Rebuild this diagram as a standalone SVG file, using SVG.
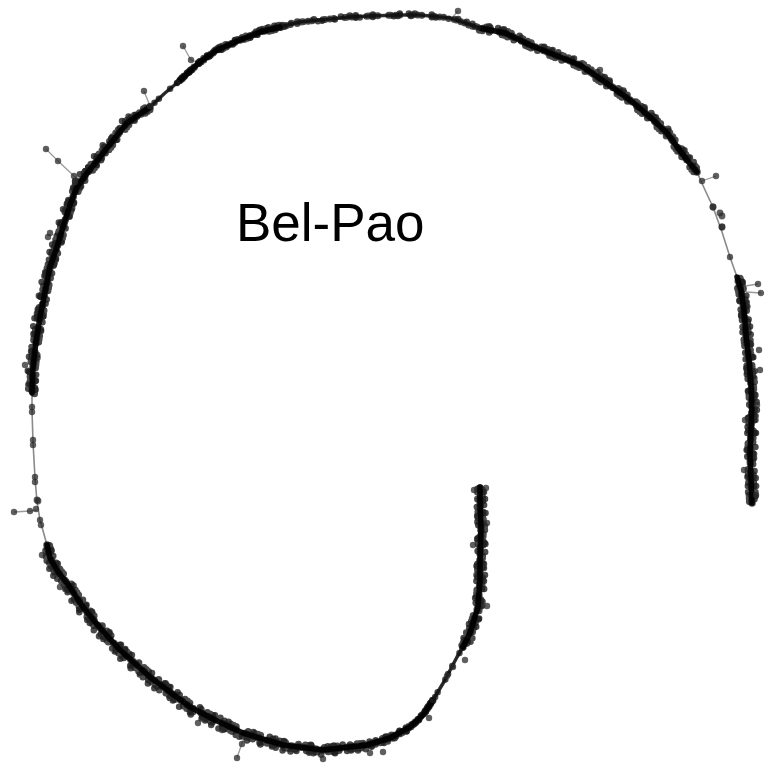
<svg xmlns="http://www.w3.org/2000/svg" xmlns:xlink="http://www.w3.org/1999/xlink" width="769" height="768" viewBox="0 0 769 768">
<style>
.base{fill:none;stroke:#8a8a8a;stroke-width:1.6;stroke-linejoin:round}
.spur{fill:none;stroke:#9a9a9a;stroke-width:1.3}
.L{fill:none;stroke:#1e1e1e;stroke-opacity:.8;stroke-linecap:round;stroke-linejoin:round}
.a{stroke-width:7.5;stroke-dasharray:0 3 0 4 0 9 0 2 0 6}
.b{stroke-width:7;stroke-dasharray:0 5 0 2 0 11 0 4;stroke-dashoffset:2}
.c{stroke-width:7;stroke-dasharray:0 7 0 3 0 3 0 13;stroke-dashoffset:4}
.d{stroke-width:6.5;stroke-dasharray:0 13 0 4 0 21;stroke-dashoffset:5}
.e{stroke-width:6.5;stroke-dasharray:0 17 0 6 0 9 0 27;stroke-dashoffset:8}
.f{stroke-width:6.5;stroke-dasharray:0 23 0 8 0 31 0 14;stroke-dashoffset:3}
.core{fill:none;stroke:#000;stroke-opacity:.92;stroke-width:5.5;stroke-linejoin:round;stroke-linecap:round}
.core2{fill:none;stroke:#111;stroke-opacity:.85;stroke-width:3.5;stroke-linejoin:round}
.sp{stroke-width:6.5;stroke-dasharray:0 9 0 15 0 6}
.dot{fill:#2a2a2a;fill-opacity:.75}
.lbl{font-family:"Liberation Sans",Arial,sans-serif;font-size:53px;fill:#000}
</style>
<defs>
<path id="p1" d="M752,503 L751,480 L750,455 L751,430 L752,405 L751,385 L749,360 L746,335 L744,310 L741,290 L737,277"/>
<path id="p2a" d="M697,172 L687,160 L667,133 L650,117 L630,100 L605,82 L580,65 L555,55 L530,45 L505,33 L480,28"/>
<path id="p2b" d="M480,28 L450,18 L420,15 L400,15 L370,16 L350,17 L320,20 L300,22 L280,27"/>
<path id="p2c" d="M280,27 L260,32 L240,40 L217,50 L200,62 L177,83"/>
<path id="p3" d="M150,107 L127,123 L115,138 L100,157 L88,172 L77,187 L70,205 L63,227 L57,247 L50,267 L45,292 L40,317 L36,342 L33,367 L32,393"/>
<path id="p4" d="M47,545 L50,558 L58,572 L67,583 L83,607 L100,628 L120,650 L150,677 L190,707 L215,720 L243,733 L283,745 L323,750 L367,745 L390,738 L410,727 L423,715 L433,700"/>
<path id="p5" d="M463,647 L470,633 L478,607 L480,580 L480,560 L481,527 L480,500 L480,487"/>
<path id="m1" d="M177,83 L165,93 L150,107"/>
<path id="m2" d="M433,700 L445,680 L457,657 L463,647"/>
</defs>
<g id="connectors">
<path class="base" d="M752,503 L751,480 L750,455 L751,430 L752,405 L751,385 L749,360 L746,335 L744,310 L741,290 L737,277 L730,257 L722,232 L713,207 L705,190 L697,172 L687,160 L667,133 L650,117 L630,100 L605,82 L580,65 L555,55 L530,45 L505,33 L480,28 L450,18 L420,15 L400,15 L370,16 L350,17 L320,20 L300,22 L280,27 L260,32 L240,40 L217,50 L200,62 L177,83 L165,93 L150,107 L127,123 L115,138 L100,157 L88,172 L77,187 L70,205 L63,227 L57,247 L50,267 L45,292 L40,317 L36,342 L33,367 L32,393 L32,410 L33,442 L35,478 L37,502 L40,520 L47,545 L50,558 L58,572 L67,583 L83,607 L100,628 L120,650 L150,677 L190,707 L215,720 L243,733 L283,745 L323,750 L367,745 L390,738 L410,727 L423,715 L433,700 L445,680 L457,657 L463,647 L470,633 L478,607 L480,580 L480,560 L481,527 L480,500 L480,487"/>
<path class="spur" d="M183,46 L191,60 L200,63"/>
<path class="spur" d="M144,91 L150,106"/>
<path class="spur" d="M46,149 L58,161 L74,176 L82,180"/>
<path class="spur" d="M14,512 L30,511 L37,510"/>
<path class="spur" d="M237,758 L242,743 L245,736"/>
<path class="spur" d="M458,11 L452,18"/>
<path class="spur" d="M716,176 L702,181"/>
<path class="spur" d="M758,284 L745,286 M761,293 L746,292"/>
</g>
<g id="spiral">
<g id="dense-right-tail">
<use xlink:href="#p1" class="L a"/>
<use xlink:href="#p1" class="L b" transform="translate(2.5,-1)"/>
<use xlink:href="#p1" class="L c" transform="translate(-2.5,1.5)"/>
<use xlink:href="#p1" class="L d" transform="translate(4,1)"/>
<use xlink:href="#p1" class="L e" transform="translate(-3.5,-2)"/>
<use xlink:href="#p1" class="L f" transform="translate(5,3)"/>
<use xlink:href="#p1" class="core"/>
</g>
<g id="dense-top-right">
<use xlink:href="#p2a" class="L a"/>
<use xlink:href="#p2a" class="L b" transform="translate(1.5,-2)"/>
<use xlink:href="#p2a" class="L c" transform="translate(-1.5,2)"/>
<use xlink:href="#p2a" class="L e" transform="translate(2.5,-3)"/>
<use xlink:href="#p2a" class="core"/>
</g>
<g id="top-middle">
<use xlink:href="#p2b" class="L b"/>
<use xlink:href="#p2b" class="L d" transform="translate(0,1)"/>
<use xlink:href="#p2b" class="L e" transform="translate(1,-1.5)"/>
<use xlink:href="#p2b" class="core2"/>
</g>
<g id="dense-top-left">
<use xlink:href="#p2c" class="L a"/>
<use xlink:href="#p2c" class="L b" transform="translate(2,-2.5)"/>
<use xlink:href="#p2c" class="L c" transform="translate(-2,2)"/>
<use xlink:href="#p2c" class="L e" transform="translate(3,-3.5)"/>
<use xlink:href="#p2c" class="L f" transform="translate(-3,3)"/>
<use xlink:href="#p2c" class="core"/>
</g>
<g id="medium-1">
<use xlink:href="#m1" class="L sp"/>
<use xlink:href="#m1" class="core2"/>
</g>
<g id="dense-left">
<use xlink:href="#p3" class="L a"/>
<use xlink:href="#p3" class="L b" transform="translate(-2.5,-1)"/>
<use xlink:href="#p3" class="L c" transform="translate(2.5,1)"/>
<use xlink:href="#p3" class="L d" transform="translate(-4,1)"/>
<use xlink:href="#p3" class="L e" transform="translate(3.5,-1)"/>
<use xlink:href="#p3" class="L f" transform="translate(-5,-2)"/>
<use xlink:href="#p3" class="core"/>
</g>
<g id="dense-bottom">
<use xlink:href="#p4" class="L a"/>
<use xlink:href="#p4" class="L b" transform="translate(-2,2.5)"/>
<use xlink:href="#p4" class="L c" transform="translate(2,-2.5)"/>
<use xlink:href="#p4" class="L d" transform="translate(-3,4)"/>
<use xlink:href="#p4" class="L e" transform="translate(2.5,-3.5)"/>
<use xlink:href="#p4" class="L f" transform="translate(-4,5)"/>
<use xlink:href="#p4" class="core"/>
</g>
<g id="medium-2">
<use xlink:href="#m2" class="L sp"/>
<use xlink:href="#m2" class="core2"/>
</g>
<g id="dense-inner-end">
<use xlink:href="#p5" class="L a"/>
<use xlink:href="#p5" class="L b" transform="translate(2.5,-1)"/>
<use xlink:href="#p5" class="L c" transform="translate(-2.5,1)"/>
<use xlink:href="#p5" class="L d" transform="translate(4,2)"/>
<use xlink:href="#p5" class="L e" transform="translate(-3.5,-1)"/>
<use xlink:href="#p5" class="L f" transform="translate(5,-2)"/>
<use xlink:href="#p5" class="core"/>
</g>
<g id="outliers">
<circle class="dot" cx="183" cy="46" r="3.2"/>
<circle class="dot" cx="191" cy="60" r="3.2"/>
<circle class="dot" cx="144" cy="91" r="3.2"/>
<circle class="dot" cx="150" cy="106" r="3.2"/>
<circle class="dot" cx="46" cy="149" r="3.2"/>
<circle class="dot" cx="58" cy="161" r="3.2"/>
<circle class="dot" cx="74" cy="176" r="3.2"/>
<circle class="dot" cx="75" cy="182" r="3.2"/>
<circle class="dot" cx="48" cy="237" r="3.2"/>
<circle class="dot" cx="50" cy="233" r="3.2"/>
<circle class="dot" cx="25" cy="365" r="3.2"/>
<circle class="dot" cx="14" cy="512" r="3.2"/>
<circle class="dot" cx="30" cy="511" r="3.2"/>
<circle class="dot" cx="36" cy="509" r="3.2"/>
<circle class="dot" cx="32" cy="407" r="3.2"/>
<circle class="dot" cx="32" cy="412" r="3.2"/>
<circle class="dot" cx="33" cy="440" r="3.2"/>
<circle class="dot" cx="33" cy="445" r="3.2"/>
<circle class="dot" cx="35" cy="477" r="3.2"/>
<circle class="dot" cx="35" cy="482" r="3.2"/>
<circle class="dot" cx="37" cy="500" r="3.4"/>
<circle class="dot" cx="38" cy="501" r="3.4"/>
<circle class="dot" cx="40" cy="520" r="3.2"/>
<circle class="dot" cx="41" cy="525" r="3.2"/>
<circle class="dot" cx="42" cy="555" r="3.2"/>
<circle class="dot" cx="60" cy="587" r="3.2"/>
<circle class="dot" cx="237" cy="758" r="3.2"/>
<circle class="dot" cx="242" cy="744" r="3.2"/>
<circle class="dot" cx="198" cy="723" r="3.2"/>
<circle class="dot" cx="222" cy="730" r="3.2"/>
<circle class="dot" cx="323" cy="759" r="3.2"/>
<circle class="dot" cx="370" cy="753" r="3.2"/>
<circle class="dot" cx="383" cy="752" r="3.2"/>
<circle class="dot" cx="429" cy="718" r="3.2"/>
<circle class="dot" cx="458" cy="11" r="3.2"/>
<circle class="dot" cx="600" cy="70" r="3.2"/>
<circle class="dot" cx="716" cy="176" r="3.2"/>
<circle class="dot" cx="702" cy="181" r="3.2"/>
<circle class="dot" cx="713" cy="207" r="3.4"/>
<circle class="dot" cx="713" cy="207" r="3.4"/>
<circle class="dot" cx="720" cy="213" r="3.4"/>
<circle class="dot" cx="722" cy="216" r="3.4"/>
<circle class="dot" cx="722" cy="227" r="3.4"/>
<circle class="dot" cx="722" cy="227" r="3.4"/>
<circle class="dot" cx="730" cy="257" r="3.2"/>
<circle class="dot" cx="758" cy="284" r="3.2"/>
<circle class="dot" cx="761" cy="293" r="3.2"/>
<circle class="dot" cx="759" cy="350" r="3.2"/>
<circle class="dot" cx="760" cy="370" r="3.2"/>
<circle class="dot" cx="757" cy="405" r="3.2"/>
<circle class="dot" cx="745" cy="420" r="3.2"/>
<circle class="dot" cx="744" cy="470" r="3.2"/>
<circle class="dot" cx="756" cy="495" r="3.2"/>
<circle class="dot" cx="486" cy="488" r="3.2"/>
<circle class="dot" cx="474" cy="490" r="3.2"/>
<circle class="dot" cx="487" cy="523" r="3.2"/>
<circle class="dot" cx="487" cy="606" r="3.2"/>
<circle class="dot" cx="473" cy="545" r="3.2"/>
<circle class="dot" cx="465" cy="660" r="3.2"/>
<circle class="dot" cx="453" cy="667" r="3.2"/>
<circle class="dot" cx="447" cy="676" r="3.2"/>
</g>
</g>
<g id="label">
<text class="lbl" x="236" y="241">Bel-Pao</text>
</g>
</svg>
